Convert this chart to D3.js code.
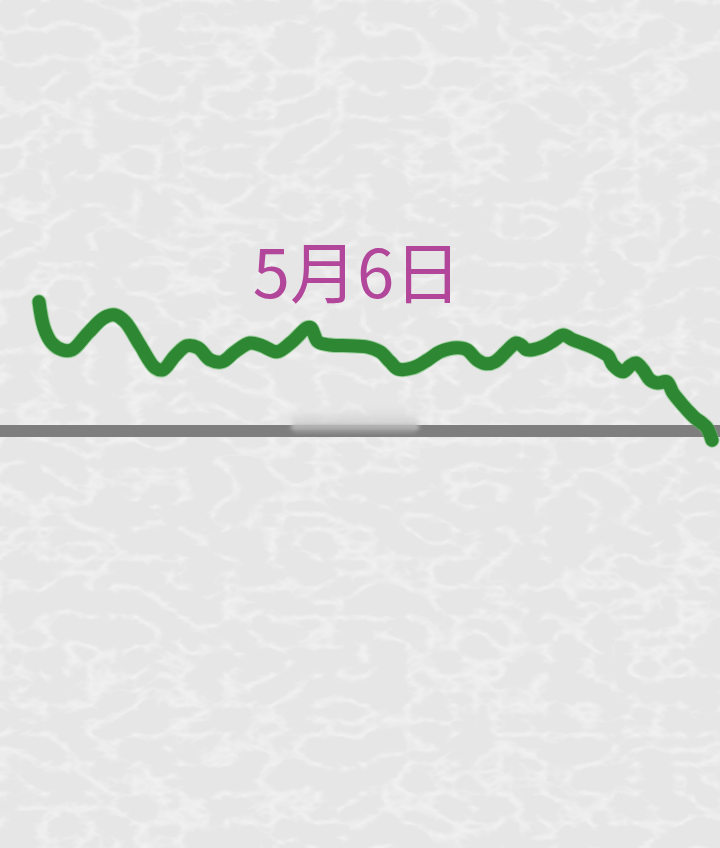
<!DOCTYPE html>
<html>
<head>
<meta charset="utf-8">
<script src="https://cdn.jsdelivr.net/npm/d3@7/dist/d3.min.js"></script>
<style>
html,body{margin:0;padding:0;background:#e9e9e9;}
svg{display:block;}
</style>
</head>
<body>
<svg id="chart" width="720" height="848"></svg>
<script>
// ---- data ----
const title = "5月6日";
// minutes into the trading day (0..240)
const minutes = [0,1.8,4.6,8.2,11.8,17.5,23.2,27.1,30.7,36.0,41.4,44.2,48.5,52.8,56.7,61.0,65.3,69.9,75.2,79.5,84.9,90.2,95.6,97.0,99.5,103.8,110.9,117.0,121.6,125.2,128.0,133.4,138.7,143.0,149.1,152.6,156.2,159.4,162.6,167.2,170.1,171.9,174.0,178.7,182.9,186.9,190.4,195.4,200.1,202.9,204.7,208.3,210.8,212.9,215.4,217.9,220.7,223.9,226.1,228.6,231.1,233.9,236.4,238.2,240.0];
// change vs previous close (%)
const change = [3.23,2.58,2.20,2.03,2.03,2.45,2.83,2.90,2.73,2.15,1.58,1.53,1.88,2.13,2.08,1.78,1.73,1.98,2.20,2.13,1.98,2.23,2.58,2.58,2.23,2.15,2.13,2.10,1.98,1.73,1.55,1.58,1.78,1.98,2.08,2.03,1.78,1.68,1.73,2.03,2.20,2.15,2.03,2.08,2.23,2.40,2.28,2.15,2.00,1.88,1.65,1.48,1.63,1.70,1.53,1.28,1.20,1.23,0.95,0.73,0.53,0.33,0.20,0.08,-0.23];
const baseline = [0];

const W = 720, H = 848;
const svg = d3.select("#chart");
const defs = svg.append("defs");

// paper-like texture background
const tex = defs.append("filter").attr("id","tex").attr("x",0).attr("y",0).attr("width","100%").attr("height","100%");
tex.append("feTurbulence").attr("type","turbulence").attr("baseFrequency","0.022 0.034").attr("numOctaves",3).attr("seed",11).attr("result","t");
tex.append("feColorMatrix").attr("in","t").attr("type","matrix")
  .attr("values","0 0 0 0 1  0 0 0 0 1  0 0 0 0 1  -1.6 0 0 0 0.45").attr("result","veins");
tex.append("feComposite").attr("in","veins").attr("in2","SourceGraphic").attr("operator","over");

svg.append("rect").attr("width",W).attr("height",H).attr("fill","#e6e6e6").attr("filter","url(#tex)");

const blur = defs.append("filter").attr("id","blur").attr("x","-20%").attr("y","-50%").attr("width","140%").attr("height","200%");
blur.append("feGaussianBlur").attr("stdDeviation","2.5 1.5");

const grad = defs.append("linearGradient").attr("id","fade").attr("x1",0).attr("y1",0).attr("x2",0).attr("y2",1);
grad.append("stop").attr("offset","0%").attr("stop-color","#e6e6e6").attr("stop-opacity",0.2);
grad.append("stop").attr("offset","100%").attr("stop-color","#c2c2c2").attr("stop-opacity",0.95);

const x = d3.scaleLinear().domain([0,240]).range([39,712]);
const y = d3.scaleLinear().domain([-0.5,4]).range([451,271]);

// baseline (previous close)
svg.selectAll("line.base").data(baseline).join("line")
  .attr("class","base")
  .attr("x1",0).attr("x2",W)
  .attr("y1",d=>y(d)).attr("y2",d=>y(d))
  .attr("stroke","#7e7e7e").attr("stroke-width",12);

// blurred patch over the baseline
svg.append("rect").attr("x",292).attr("y",y(0)-27).attr("width",126).attr("height",26)
  .attr("fill","url(#fade)").attr("filter","url(#blur)");
svg.append("rect").attr("x",294).attr("y",y(0)-6).attr("width",122).attr("height",9)
  .attr("fill","#a0a0a0").attr("opacity",0.5).attr("filter","url(#blur)");

// price line
const pts = minutes.map((m,i)=>[m,change[i]]);
const line = d3.line().x(d=>x(d[0])).y(d=>y(d[1])).curve(d3.curveCatmullRom.alpha(0.5));
svg.append("path").datum(pts).attr("d",line)
  .attr("fill","none").attr("stroke","#5cb85f").attr("stroke-width",15)
  .attr("stroke-linecap","round").attr("stroke-linejoin","round").attr("opacity",0.55);
svg.append("path").datum(pts).attr("d",line)
  .attr("fill","none").attr("stroke","#2e8833").attr("stroke-width",13)
  .attr("stroke-linecap","round").attr("stroke-linejoin","round");

// title
svg.append("text").attr("x",357).attr("y",298).attr("text-anchor","middle")
  .attr("font-family","'Noto Sans CJK SC','Noto Sans',sans-serif")
  .attr("font-size",67).attr("font-weight",400).attr("fill","#b2469a").text(title);
</script>
</body>
</html>
